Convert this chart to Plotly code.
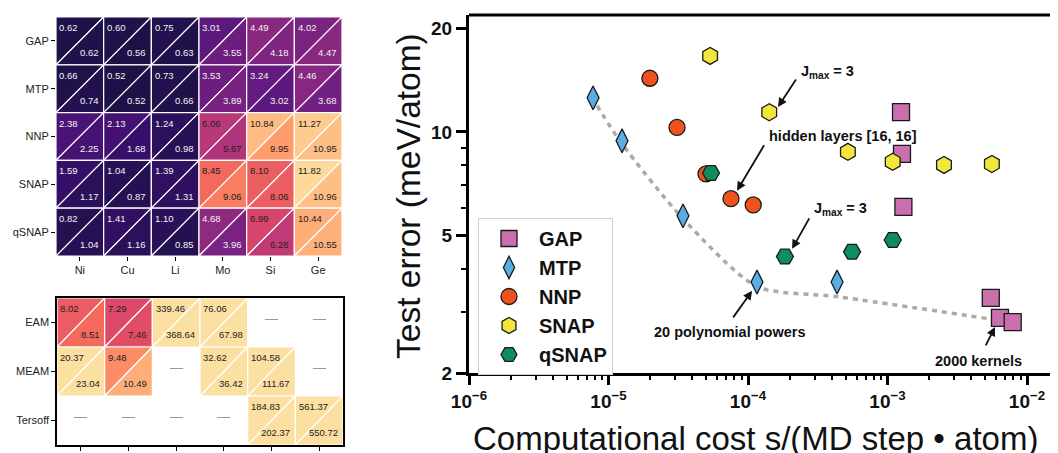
import numpy as np
import plotly.graph_objects as go

# ------------------------------------------------------------------ data
elements = ["Ni", "Cu", "Li", "Mo", "Si", "Ge"]

ml_models = ["GAP", "MTP", "NNP", "SNAP", "qSNAP"]
ml_upper = [
    [0.62, 0.60, 0.75, 3.01, 4.49, 4.02],
    [0.66, 0.52, 0.73, 3.53, 3.24, 4.46],
    [2.38, 2.13, 1.24, 6.06, 10.84, 11.27],
    [1.59, 1.04, 1.39, 8.45, 8.10, 11.82],
    [0.82, 1.41, 1.10, 4.68, 6.99, 10.44],
]
ml_lower = [
    [0.62, 0.56, 0.63, 3.55, 4.18, 4.47],
    [0.74, 0.52, 0.66, 3.89, 3.02, 3.68],
    [2.25, 1.68, 0.98, 5.67, 9.95, 10.95],
    [1.17, 0.87, 1.31, 9.06, 8.06, 10.96],
    [1.04, 1.16, 0.85, 3.96, 6.28, 10.55],
]

classical_models = ["EAM", "MEAM", "Tersoff"]
cl_upper = [
    [8.02, 7.29, 339.46, 76.06, None, None],
    [20.37, 9.48, None, 32.62, 104.58, None],
    [None, None, None, None, 184.83, 561.37],
]
cl_lower = [
    [8.51, 7.46, 368.64, 67.98, None, None],
    [23.04, 10.49, None, 36.42, 111.67, None],
    [None, None, None, None, 202.37, 550.72],
]

# cost (s / (MD step * atom)) and test error (meV/atom)
gap_cost = [1.25e-3, 1.27e-3, 1.30e-3, 5.5e-3, 6.4e-3, 7.9e-3]
gap_err = [11.4, 8.63, 6.06, 3.30, 2.89, 2.81]
mtp_cost = [7.75e-6, 1.25e-5, 3.42e-5, 1.16e-4, 4.35e-4]
mtp_err = [12.55, 9.42, 5.71, 3.67, 3.67]
nnp_cost = [1.98e-5, 3.1e-5, 5.0e-5, 7.55e-5, 1.09e-4]
nnp_err = [14.3, 10.3, 7.55, 6.40, 6.14]
snap_cost = [5.35e-5, 1.42e-4, 5.2e-4, 1.09e-3, 2.54e-3, 5.6e-3]
snap_err = [16.6, 11.4, 8.75, 8.19, 8.02, 8.07]
qsnap_cost = [5.43e-5, 1.84e-4, 5.57e-4, 1.09e-3]
qsnap_err = [7.6, 4.35, 4.49, 4.86]
pareto_cost = [8.28e-6, 1.25e-5, 3.42e-5, 1.16e-4, 4.35e-4, 5.43e-3]
pareto_err = [11.9, 9.23, 5.6, 3.56, 3.33, 2.87]

# annotations: label, text position, arrow head, arrow tail offset (px)
note_labels = ["J<sub>max</sub> = 3", "hidden layers [16, 16]", "J<sub>max</sub> = 3",
               "20 polynomial powers", "2000 kernels"]
note_text_x = [3.74e-4, 4.8e-4, 4.57e-4, 7.43e-5, 4.46e-3]
note_text_y = [14.9, 9.73, 5.98, 2.63, 2.17]
note_head_x = [1.64e-4, 8.34e-5, 2.07e-4, 1.07e-4, 5.9e-3]
note_head_y = [11.8, 6.75, 4.58, 3.46, 2.72]
note_tail_dx = [19, 28, 18, -20, -10]
note_tail_dy = [-29, -47, -32, 28, 20]

# ------------------------------------------------------------------ style / layout helpers
FONT = "Liberation Sans, Arial, sans-serif"
W, H, OFF = 1058, 453, 8          # page body margin shifts the figure by OFF px


def xp(px):
    return (px - OFF) / W


def yp(py):
    return 1 - (py - OFF) / H


MAGMA = [(0.10, (29, 17, 71)), (0.20, (59, 15, 112)), (0.30, (100, 26, 128)),
         (0.40, (140, 41, 129)), (0.50, (183, 55, 121)), (0.60, (222, 73, 104)),
         (0.70, (247, 112, 92)), (0.80, (254, 159, 109)), (0.90, (254, 207, 146)),
         (0.95, (252, 224, 162))]
VMIN, VSPAN = -0.84, 13.6


def cell_color(v):
    t = (v - VMIN) / VSPAN
    pos = [p for p, _ in MAGMA]
    t = min(max(t, pos[0]), pos[-1])
    rgb = [np.interp(t, pos, [c[k] for _, c in MAGMA]) for k in range(3)]
    return "rgb(%d,%d,%d)" % tuple(int(round(c)) for c in rgb)


fig = go.Figure()
annotations = []


def add_grid(upper, lower, xa, ya):
    for j, (row_u, row_l) in enumerate(zip(upper, lower)):
        for i, (vu, vl) in enumerate(zip(row_u, row_l)):
            if vu is None:
                annotations.append(dict(x=i, y=j - 0.08, xref=xa, yref=ya, text="—",
                                        xanchor="center", yanchor="middle",
                                        showarrow=False, font=dict(size=13, color="#9a9a9a")))
                continue
            tris = [([i - 0.5, i + 0.5, i - 0.5, i - 0.5], [j - 0.5, j - 0.5, j + 0.5, j - 0.5], vu),
                    ([i + 0.5, i + 0.5, i - 0.5, i + 0.5], [j - 0.5, j + 0.5, j + 0.5, j - 0.5], vl)]
            for tx, ty, v in tris:
                fig.add_trace(go.Scatter(x=tx, y=ty, xaxis=xa, yaxis=ya, mode="lines",
                                         fill="toself", fillcolor=cell_color(v),
                                         line=dict(color="white", width=1.2),
                                         hoverinfo="skip", showlegend=False))
            for v, x, y, anc in [(vu, i - 0.5 + 0.03, j - 0.5 + 0.22, "left"),
                                 (vl, i + 0.5 - 0.06, j + 0.5 - 0.25, "right")]:
                col = "#f2f2f2" if v < 5 else "#222222"
                annotations.append(dict(x=x, y=y, xref=xa, yref=ya, text="%.2f" % v,
                                        xanchor=anc, yanchor="middle", showarrow=False,
                                        font=dict(size=9.5, color=col)))


add_grid(ml_upper, ml_lower, "x2", "y2")
add_grid(cl_upper, cl_lower, "x3", "y3")

# ------------------------------------------------------------------ scatter
fig.add_trace(go.Scatter(x=pareto_cost, y=pareto_err, mode="lines", showlegend=False,
                         line=dict(color="#aaaaaa", width=3.5, dash="5px,5px",
                                   shape="spline", smoothing=0.7),
                         hoverinfo="skip"))
series = [("GAP", gap_cost, gap_err, "square", "#c96fad", 17),
          ("MTP", mtp_cost, mtp_err, "diamond-tall", "#5aade2", 17),
          ("NNP", nnp_cost, nnp_err, "circle", "#f0521f", 16),
          ("SNAP", snap_cost, snap_err, "hexagon", "#f3e63a", 17),
          ("qSNAP", qsnap_cost, qsnap_err, "hexagon2", "#0f8d5f", 17)]
for name, xs, ys, sym, col, sz in series:
    fig.add_trace(go.Scatter(x=xs, y=ys, mode="markers", name=name,
                             marker=dict(symbol=sym, size=sz, color=col,
                                         line=dict(color="#1a1a1a", width=1.3))))

for lab, tx, ty, hx, hy, dx, dy in zip(note_labels, note_text_x, note_text_y, note_head_x,
                                       note_head_y, note_tail_dx, note_tail_dy):
    annotations.append(dict(x=np.log10(tx), y=np.log10(ty), xref="x", yref="y", text=lab,
                            xanchor="center", yanchor="middle", showarrow=False,
                            font=dict(size=14.5, color="#111", weight="bold")))
    annotations.append(dict(x=np.log10(hx), y=np.log10(hy), xref="x", yref="y", text="",
                            showarrow=True, ax=dx, ay=dy, arrowhead=2, arrowsize=1,
                            arrowwidth=1.8, arrowcolor="#111"))

annotations.append(dict(x=xp(755), y=yp(438), xref="paper", yref="paper",
                        xanchor="center", yanchor="middle",
                        text="Computational cost s/(MD step • atom)", showarrow=False,
                        font=dict(size=33, color="#111")))
annotations.append(dict(x=xp(408), y=yp(196), xref="paper", yref="paper",
                        xanchor="center", yanchor="middle",
                        text="Test error (meV/atom)", textangle=-90, showarrow=False,
                        font=dict(size=33.5, color="#111")))

# scatter axes: left edge at px 469, 139.5 px per decade in x, 345 px per decade in y
X_LEFT, X_DEC, Y_DEC = 469, 139.5, 345
x_right_log = -6 + (W + OFF - X_LEFT) / X_DEC
x_major = [1e-6, 1e-5, 1e-4, 1e-3, 1e-2]
x_minor = [k * 10.0 ** e for e in range(-6, -1) for k in range(2, 10)]
heat_axis = dict(showgrid=False, zeroline=False, showline=False, ticks="outside",
                 ticklen=4, tickwidth=1.2, tickcolor="black", automargin=False,
                 tickfont=dict(size=11, color="#222"))

fig.update_layout(
    width=W, height=H, margin=dict(l=0, r=0, t=0, b=0, pad=0, autoexpand=False),
    paper_bgcolor="white", plot_bgcolor="white",
    font=dict(family=FONT, color="#111"),
    xaxis=dict(type="log", domain=[xp(X_LEFT), 1], anchor="y", range=[-6, x_right_log],
               tickvals=x_major, ticktext=["10<sup>−%d</sup>" % k for k in range(6, 1, -1)],
               ticks="outside", ticklen=9, tickwidth=2.5, tickcolor="black", automargin=False,
               showline=True, linewidth=3, linecolor="black", showgrid=False, zeroline=False,
               tickfont=dict(size=19, color="#111", weight="bold"),
               minor=dict(tickvals=x_minor, ticks="outside", ticklen=4, tickwidth=2,
                          tickcolor="black", showgrid=False)),
    yaxis=dict(type="log", domain=[yp(373), yp(15)], anchor="x",
               range=[np.log10(2), np.log10(2) + (373 - 15) / Y_DEC], automargin=False,
               tickvals=[2, 5, 10, 20], ticktext=["2", "5", "10", "20"],
               ticks="outside", ticklen=10, tickwidth=2.5, tickcolor="black",
               showline=True, linewidth=3, linecolor="black", showgrid=False, zeroline=False,
               tickfont=dict(size=19, color="#111", weight="bold"),
               minor=dict(tickvals=[3, 4, 6, 7, 8, 9], ticks="outside", ticklen=5,
                          tickwidth=2, tickcolor="black", showgrid=False)),
    xaxis2=dict(domain=[xp(56), xp(342)], anchor="y2", range=[-0.5, 5.5],
                tickvals=list(range(6)), ticktext=elements, **heat_axis),
    yaxis2=dict(domain=[yp(256), yp(17)], anchor="x2", range=[4.5, -0.5],
                tickvals=list(range(5)), ticktext=ml_models, **heat_axis),
    xaxis3=dict(domain=[xp(57), xp(343)], anchor="y3", range=[-0.5, 5.5],
                tickvals=list(range(6)), ticktext=elements, **heat_axis),
    yaxis3=dict(domain=[yp(445), yp(298)], anchor="x3", range=[2.5, -0.5],
                tickvals=list(range(3)), ticktext=classical_models, **heat_axis),
    legend=dict(x=xp(478), y=yp(218), xanchor="left", yanchor="top",
                bgcolor="white", bordercolor="#cfcfcf", borderwidth=1,
                font=dict(size=20, color="#111", weight="bold"), itemwidth=50),
    annotations=annotations,
    shapes=[dict(type="line", xref="paper", yref="paper", x0=xp(X_LEFT), x1=1,
                 y0=yp(15), y1=yp(15), line=dict(color="black", width=3))],
)
fig.update_xaxes(showline=True, mirror=True, linewidth=1.5, linecolor="black", selector=dict(anchor="y3"))
fig.update_yaxes(showline=True, mirror=True, linewidth=1.5, linecolor="black", selector=dict(anchor="x3"))

fig.write_html("out.html")
